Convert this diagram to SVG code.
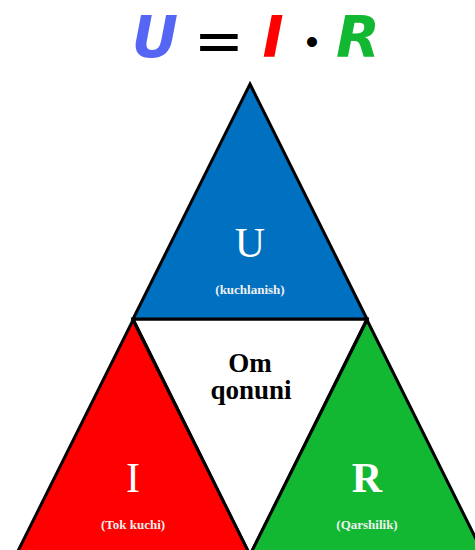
<svg xmlns="http://www.w3.org/2000/svg" width="475" height="550" viewBox="0 0 475 550">
<style>
.tri{stroke:#000;stroke-width:3;stroke-linejoin:miter}
.big{font-family:"Liberation Serif",serif;font-size:42px;fill:#fff;text-anchor:middle}
.sub{font-family:"Liberation Serif",serif;font-size:13px;font-weight:bold;fill:#f0f0f0;text-anchor:middle}
.eq{font-family:"DejaVu Sans",sans-serif;font-size:57px;font-weight:bold;font-style:italic;text-anchor:middle}
.op{font-family:"DejaVu Sans",sans-serif;font-size:60px;fill:#000;text-anchor:middle}
.mid{font-family:"Liberation Serif",serif;font-size:27px;font-weight:bold;fill:#000;text-anchor:middle}
</style>
<rect width="475" height="550" fill="#fff"/>
<g id="title">
<text class="eq" x="155" y="57" fill="#5566F5">U</text>
<text class="op" x="219" y="61">=</text>
<text class="eq" x="273" y="57" fill="#FF0000">I</text>
<text x="312" y="54" font-family="Liberation Sans, sans-serif" font-size="37" fill="#000" text-anchor="middle">•</text>
<text class="eq" x="358" y="57" fill="#12B832">R</text>
</g>
<g id="center">
<polygon class="tri" points="133,319 367,319 250,555" fill="#fff"/>
<text class="mid" x="250" y="372">Om</text>
<text class="mid" x="251" y="399">qonuni</text>
</g>
<g id="U">
<polygon class="tri" points="250,84 367,319 133,319" fill="#0070C0"/>
<text class="big" x="250" y="257">U</text>
<text class="sub" x="250" y="294">(kuchlanish)</text>
</g>
<g id="I">
<polygon class="tri" points="133,320 250,555 16,555" fill="#FF0000"/>
<text class="big" x="133" y="492">I</text>
<text class="sub" x="133" y="529">(Tok kuchi)</text>
</g>
<g id="R">
<polygon class="tri" points="367,320 484,555 250,555" fill="#12B832"/>
<text class="big" x="367" y="492" font-weight="bold">R</text>
<text class="sub" x="367" y="529">(Qarshilik)</text>
</g>
<g id="connectors"/>
</svg>
